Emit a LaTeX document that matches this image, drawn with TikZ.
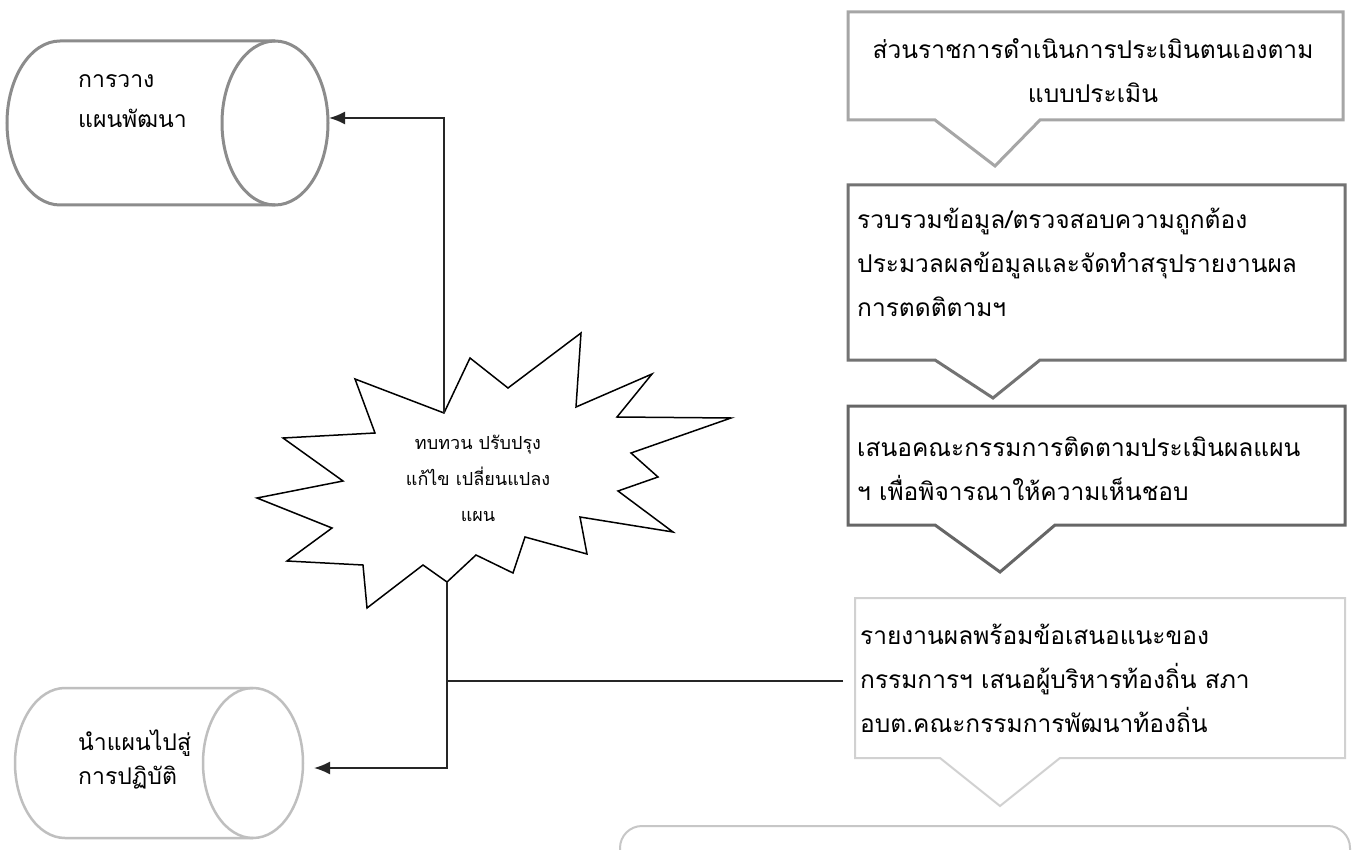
\documentclass[tikz,border=0pt]{standalone}
\usepackage{fontspec}
\newfontfamily\thai[Script=Thai]{Loma}
\usetikzlibrary{arrows.meta}
\begin{document}
\begin{tikzpicture}[x=1pt,y=-1pt,
  conn/.style={line width=1.8pt, draw=black!85},
  arr/.style={conn, -{Latex[length=16pt,width=13pt]}},
  cylA/.style={line width=3pt, draw=black!45},
  cylB/.style={line width=2.5pt, draw=black!25},
  callout/.style={line width=3pt, line join=miter},
  boxtext/.style={font=\thai\fontsize{24.5}{44}\selectfont, align=left, anchor=west, inner sep=0pt},
  cyltext/.style={font=\thai\fontsize{23}{40}\selectfont, align=left, anchor=west, inner sep=0pt},
  startext/.style={font=\thai\fontsize{18}{36}\selectfont, align=center, inner sep=0pt},
]
\useasboundingbox (0,0) rectangle (1357,850);
\fill[white] (0,0) rectangle (1357,850);
\clip (0,0) rectangle (1357,850);

% ---- cylinder 1 (top left)
\draw[cylA] (275,41) -- (60,41) arc[start angle=270, end angle=90, x radius=53, y radius=82] -- (275,205);
\draw[cylA] (275,123) ellipse[x radius=53, y radius=82];
\node[cyltext] (cyl1) at (78,101) {การวาง\\แผนพัฒนา};
\coordinate (cyl1in) at (329,118);

% ---- cylinder 2 (bottom left)
\draw[cylB] (253,688) -- (65,688) arc[start angle=270, end angle=90, x radius=50, y radius=75] -- (253,838);
\draw[cylB] (253,763) ellipse[x radius=50, y radius=75];
\node[cyltext, font=\thai\fontsize{23}{34}\selectfont] (cyl2) at (78,759) {นำแผนไปสู่\\การปฏิบัติ};
\coordinate (cyl2in) at (314,768);

% ---- star
\draw[line width=1.5pt, line join=miter]
  (444,413) -- (470,358) -- (508,388) -- (581,333) -- (576,407) -- (652,374)
  -- (617,417) -- (731,418) -- (631,453) -- (658,477) -- (618,491) -- (673,532)
  -- (580,517) -- (587,554) -- (525,537) -- (513,573) -- (476,555) -- (447,582)
  -- (423,565) -- (367,608) -- (363,565) -- (287,561) -- (332,528) -- (257,498)
  -- (343,481) -- (283,438) -- (375,433) -- (355,379) -- cycle;
\node[startext] (star) at (478,478) {ทบทวน ปรับปรุง\\แก้ไข เปลี่ยนแปลง\\แผน};
\coordinate (startop) at (444,413);
\coordinate (starbot) at (447,582);

% ---- callout boxes (right column)
\draw[callout, draw=black!35] (848,12) -- (1343,12) -- (1343,120) -- (1040,120) -- (995,166) -- (935,120) -- (848,120) -- cycle;
\node[boxtext, anchor=center, align=center] (box1) at (1093,71) {ส่วนราชการดำเนินการประเมินตนเองตาม\\แบบประเมิน};

\draw[callout, draw=black!55] (848,185) -- (1345,185) -- (1345,360) -- (1040,360) -- (993,398) -- (935,360) -- (848,360) -- cycle;
\node[boxtext] (box2) at (857,262) {รวบรวมข้อมูล/ตรวจสอบความถูกต้อง\\ประมวลผลข้อมูลและจัดทำสรุปรายงานผล\\การตดติตามฯ};

\draw[callout, draw=black!60] (848,406) -- (1345,406) -- (1345,525) -- (1055,525) -- (1000,572) -- (935,525) -- (848,525) -- cycle;
\node[boxtext] (box3) at (857,469) {เสนอคณะกรรมการติดตามประเมินผลแผน\\ฯ เพื่อพิจารณาให้ความเห็นชอบ};

\draw[callout, line width=2pt, draw=black!18] (855,598) -- (1345,598) -- (1345,758) -- (1060,758) -- (1000,806) -- (940,758) -- (855,758) -- cycle;
\node[boxtext] (box4) at (860,678) {รายงานผลพร้อมข้อเสนอแนะของ\\กรรมการฯ เสนอผู้บริหารท้องถิ่น สภา\\อบต.คณะกรรมการพัฒนาท้องถิ่น};
\coordinate (box4in) at (843,681);

\draw[line width=2pt, draw=black!22, rounded corners=22pt] (620,900) -- (620,826) -- (1350,826) -- (1350,900);

% ---- connectors
\draw[arr] (startop) |- (cyl1in);
\draw[arr] (starbot) |- (cyl2in);
\draw[conn] (box4in) -- (starbot |- box4in);
\end{tikzpicture}
\end{document}
